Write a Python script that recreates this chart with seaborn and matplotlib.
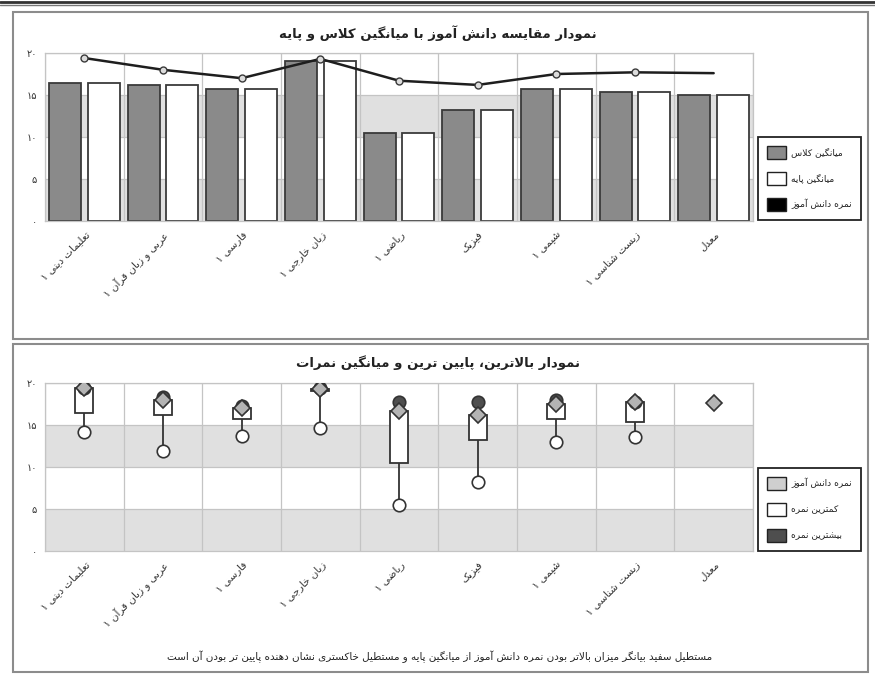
import numpy as np
import pandas as pd
import matplotlib
matplotlib.use("Agg")
import matplotlib.pyplot as plt
import matplotlib.transforms as mtransforms
from matplotlib.patches import Patch, Rectangle
from matplotlib.lines import Line2D
import seaborn as sns

# ---------------- data ----------------
subjects = ["تعلیمات دینی ۱", "عربی و زبان قرآن ۱", "فارسی ۱", "زبان خارجی ۱",
            "ریاضی ۱", "فیزیک", "شیمی ۱", "زیست شناسی ۱", "معدل"]
class_avg = [16.4, 16.2, 15.7, 19.0, 10.5, 13.2, 15.7, 15.3, 15.0]
base_avg = [16.4, 16.2, 15.7, 19.0, 10.5, 13.2, 15.7, 15.3, 15.0]
student = [19.4, 18.0, 17.0, 19.3, 16.7, 16.2, 17.5, 17.7, 17.6]
min_grade = [14.2, 11.9, 13.7, 14.7, 5.5, 8.2, 12.95, 13.6, np.nan]
max_grade = [19.4, 18.3, 17.3, 19.4, 17.7, 17.7, 18.0, 17.7, np.nan]
yticks = [0, 5, 10, 15, 20]
ytick_labels = ["۰", "۵", "۱۰", "۱۵", "۲۰"]

title_top = "نمودار مقایسه دانش آموز با میانگین کلاس و پایه"
title_bottom = "نمودار بالاترین، پایین ترین و میانگین نمرات"
legend_top = ["میانگین کلاس", "میانگین پایه", "نمره دانش آموز"]
legend_bottom = ["نمره دانش آموز", "کمترین نمره", "بیشترین نمره"]
footnote = ("مستطیل سفید بیانگر میزان بالاتر بودن نمره دانش آموز از میانگین پایه "
            "و مستطیل خاکستری نشان دهنده پایین تر بودن آن است")

# ---------------- Persian shaping (presentation forms + RTL order) ----------------
FORMS = {
    "\u0627": ("\uFE8D", "\uFE8E", None, None),
    "\u0622": ("\uFE81", "\uFE82", None, None),
    "\u0628": ("\uFE8F", "\uFE90", "\uFE91", "\uFE92"),
    "\u067E": ("\uFB56", "\uFB57", "\uFB58", "\uFB59"),
    "\u062A": ("\uFE95", "\uFE96", "\uFE97", "\uFE98"),
    "\u062B": ("\uFE99", "\uFE9A", "\uFE9B", "\uFE9C"),
    "\u062C": ("\uFE9D", "\uFE9E", "\uFE9F", "\uFEA0"),
    "\u0686": ("\uFB7A", "\uFB7B", "\uFB7C", "\uFB7D"),
    "\u062D": ("\uFEA1", "\uFEA2", "\uFEA3", "\uFEA4"),
    "\u062E": ("\uFEA5", "\uFEA6", "\uFEA7", "\uFEA8"),
    "\u062F": ("\uFEA9", "\uFEAA", None, None),
    "\u0630": ("\uFEAB", "\uFEAC", None, None),
    "\u0631": ("\uFEAD", "\uFEAE", None, None),
    "\u0632": ("\uFEAF", "\uFEB0", None, None),
    "\u0698": ("\uFB8A", "\uFB8B", None, None),
    "\u0633": ("\uFEB1", "\uFEB2", "\uFEB3", "\uFEB4"),
    "\u0634": ("\uFEB5", "\uFEB6", "\uFEB7", "\uFEB8"),
    "\u0635": ("\uFEB9", "\uFEBA", "\uFEBB", "\uFEBC"),
    "\u0636": ("\uFEBD", "\uFEBE", "\uFEBF", "\uFEC0"),
    "\u0637": ("\uFEC1", "\uFEC2", "\uFEC3", "\uFEC4"),
    "\u0638": ("\uFEC5", "\uFEC6", "\uFEC7", "\uFEC8"),
    "\u0639": ("\uFEC9", "\uFECA", "\uFECB", "\uFECC"),
    "\u063A": ("\uFECD", "\uFECE", "\uFECF", "\uFED0"),
    "\u0641": ("\uFED1", "\uFED2", "\uFED3", "\uFED4"),
    "\u0642": ("\uFED5", "\uFED6", "\uFED7", "\uFED8"),
    "\u06A9": ("\uFB8E", "\uFB8F", "\uFB90", "\uFB91"),
    "\u06AF": ("\uFB92", "\uFB93", "\uFB94", "\uFB95"),
    "\u0644": ("\uFEDD", "\uFEDE", "\uFEDF", "\uFEE0"),
    "\u0645": ("\uFEE1", "\uFEE2", "\uFEE3", "\uFEE4"),
    "\u0646": ("\uFEE5", "\uFEE6", "\uFEE7", "\uFEE8"),
    "\u0648": ("\uFEED", "\uFEEE", None, None),
    "\u0647": ("\uFEE9", "\uFEEA", "\uFEEB", "\uFEEC"),
    "\u06CC": ("\uFBFC", "\uFBFD", "\uFBFE", "\uFBFF"),
    "\u0626": ("\uFE89", "\uFE8A", "\uFE8B", "\uFE8C"),
}
LAM_ALEF = {"\u0627": ("\uFEFB", "\uFEFC"), "\u0622": ("\uFEF5", "\uFEF6")}


def joins_next(c):
    return c in FORMS and FORMS[c][2] is not None


def fa(text):
    chars = list(text)
    n = len(chars)
    res = []
    i = 0
    while i < n:
        c = chars[i]
        if c not in FORMS:
            res.append(c)
            i += 1
            continue
        prev = chars[i - 1] if i > 0 else None
        cprev = prev is not None and joins_next(prev)
        if c == "\u0644" and i + 1 < n and chars[i + 1] in LAM_ALEF:
            lig = LAM_ALEF[chars[i + 1]]
            res.append(lig[1] if cprev else lig[0])
            i += 2
            continue
        nxt = chars[i + 1] if i + 1 < n else None
        cnext = joins_next(c) and nxt is not None and nxt in FORMS
        iso, fin, ini, med = FORMS[c]
        if cprev and cnext:
            res.append(med)
        elif cprev:
            res.append(fin)
        elif cnext:
            res.append(ini)
        else:
            res.append(iso)
        i += 1
    return "".join(reversed(res))


# ---------------- style ----------------
sns.set_theme(style="white")
plt.rcParams["font.family"] = ["DejaVu Sans"]

W, H = 875, 674
fig = plt.figure(figsize=(W / 100, H / 100), dpi=100)
fig.patch.set_facecolor("white")

DARK = "#8a8a8a"
EDGE = "#3a3a3a"
BAND = "#e0e0e0"
GRID = "#c4c4c4"


def fx(px):
    return px / W


def fy(py):
    return 1 - py / H


def style_axes(ax):
    ax.set_ylim(0, 20)
    ax.set_xlim(-0.5, len(subjects) - 0.5)
    ax.axhspan(0, 5, color=BAND, zorder=0, lw=0)
    ax.axhspan(10, 15, color=BAND, zorder=0, lw=0)
    for y in yticks[1:]:
        ax.axhline(y, color=GRID, lw=0.9, zorder=0.5)
    for k in range(len(subjects) + 1):
        ax.axvline(k - 0.5, color=GRID, lw=0.9, zorder=0.5)
    for s in ax.spines.values():
        s.set_color(GRID)
        s.set_linewidth(0.9)
    ax.set_yticks(yticks)
    ax.set_yticklabels(ytick_labels, fontsize=7, color="#333333")
    ax.set_xticks(range(len(subjects)))
    ax.set_xticklabels([fa(s) for s in subjects], rotation=45, ha="right",
                       va="top", rotation_mode="anchor", fontsize=7.5, color="#333333")
    off = mtransforms.ScaledTranslation(8 / 100, 0, fig.dpi_scale_trans)
    for lab in ax.get_xticklabels():
        lab.set_transform(lab.get_transform() + off)
    ax.tick_params(axis="both", length=0, pad=6)
    ax.set_xlabel("")
    ax.set_ylabel("")


def make_legend(handles, labels, anchor_px):
    leg = fig.legend(handles, [fa(t) for t in labels], loc="lower left",
                     bbox_to_anchor=(fx(anchor_px[0]), fy(anchor_px[1])), fontsize=6.6,
                     handlelength=2.15, handleheight=1.85, labelspacing=1.4,
                     borderpad=0.95, borderaxespad=0, handletextpad=0.55,
                     fancybox=False, edgecolor="#222222", framealpha=1)
    leg.get_frame().set_linewidth(1.3)
    for t in leg.get_texts():
        t.set_color("#222222")
    return leg


# ---------------- panel frames ----------------
fig.add_artist(Line2D([0, 1], [fy(1.5), fy(1.5)], transform=fig.transFigure, color="#333333", lw=2))
fig.add_artist(Line2D([0, 1], [fy(5), fy(5)], transform=fig.transFigure, color="#777777", lw=1))
fig.add_artist(Rectangle((fx(13), fy(339)), fx(868) - fx(13), fy(12) - fy(339),
                         transform=fig.transFigure, fill=False, edgecolor="#8c8c8c", lw=1.5))
fig.add_artist(Rectangle((fx(13), fy(672)), fx(868) - fx(13), fy(344) - fy(672),
                         transform=fig.transFigure, fill=False, edgecolor="#8c8c8c", lw=1.5))

# ---------------- top chart ----------------
ax1 = fig.add_axes([fx(45), fy(221), fx(753) - fx(45), fy(53) - fy(221)])
df_bars = pd.DataFrame({
    "subject": subjects * 2,
    "series": [legend_top[0]] * len(subjects) + [legend_top[1]] * len(subjects),
    "value": class_avg + base_avg,
})
sns.barplot(data=df_bars, x="subject", y="value", hue="series", order=subjects,
            hue_order=legend_top[:2], palette=[DARK, "white"], width=0.98, gap=0.17,
            edgecolor=EDGE, linewidth=1.3, errorbar=None, legend=False, ax=ax1, zorder=2)
df_student = pd.DataFrame({"subject": subjects, "value": student})
sns.pointplot(data=df_student, x="subject", y="value", order=subjects, color="#1e1e1e",
              markers="o", errorbar=None, ax=ax1, linewidth=1.8, markersize=5,
              markerfacecolor="#dcdcdc", markeredgecolor="#3a3a3a", markeredgewidth=1,
              markevery=list(range(len(subjects) - 1)), zorder=4)
style_axes(ax1)

h1 = [Patch(facecolor=DARK, edgecolor="#222222", lw=1),
      Patch(facecolor="white", edgecolor="#222222", lw=1),
      Patch(facecolor="black", edgecolor="#222222", lw=1)]
make_legend(h1, legend_top, (758, 220))

fig.text(0.5, fy(33), fa(title_top), ha="center", va="center", fontsize=9.5,
         fontweight="bold", color="#222222")

# ---------------- bottom chart ----------------
ax2 = fig.add_axes([fx(45), fy(551), fx(753) - fx(45), fy(383) - fy(551)])
pos = np.arange(len(subjects))
has_range = ~np.isnan(np.array(min_grade))
st = np.array(student)
bs = np.array(base_avg)
ax2.vlines(pos[has_range], np.array(min_grade)[has_range], np.array(max_grade)[has_range],
           color="#333333", lw=1.3, zorder=2)
ax2.bar(pos[has_range], (st - bs)[has_range], bottom=bs[has_range], width=0.225,
        facecolor="white", edgecolor="#333333", lw=1.3, zorder=3)
df_min = pd.DataFrame({"subject": subjects, "value": min_grade}).dropna()
df_max = pd.DataFrame({"subject": subjects, "value": max_grade}).dropna()
sns.pointplot(data=df_min, x="subject", y="value", order=subjects, linestyles="none",
              markers="o", color="#333333", errorbar=None, ax=ax2, markersize=9,
              markerfacecolor="white", markeredgecolor="#333333", markeredgewidth=1.2, zorder=4)
sns.pointplot(data=df_max, x="subject", y="value", order=subjects, linestyles="none",
              markers="o", color="#333333", errorbar=None, ax=ax2, markersize=9,
              markerfacecolor="#4e4e4e", markeredgecolor="#333333", markeredgewidth=1.2, zorder=4)
sns.pointplot(data=df_student, x="subject", y="value", order=subjects, linestyles="none",
              markers="D", color="#333333", errorbar=None, ax=ax2, markersize=8.5,
              markerfacecolor="#b4b4b4", markeredgecolor="#333333", markeredgewidth=1.2, zorder=5)
style_axes(ax2)

h2 = [Patch(facecolor="#cfcfcf", edgecolor="#222222", lw=1),
      Patch(facecolor="white", edgecolor="#222222", lw=1),
      Patch(facecolor="#4e4e4e", edgecolor="#222222", lw=1)]
make_legend(h2, legend_bottom, (758, 551))

fig.text(0.5, fy(363), fa(title_bottom), ha="center", va="center", fontsize=9.5,
         fontweight="bold", color="#222222")
fig.text(fx(440), fy(657), fa(footnote), ha="center", va="center", fontsize=7.5,
         color="#222222")

fig.savefig("out.png", dpi=100, facecolor="white")
